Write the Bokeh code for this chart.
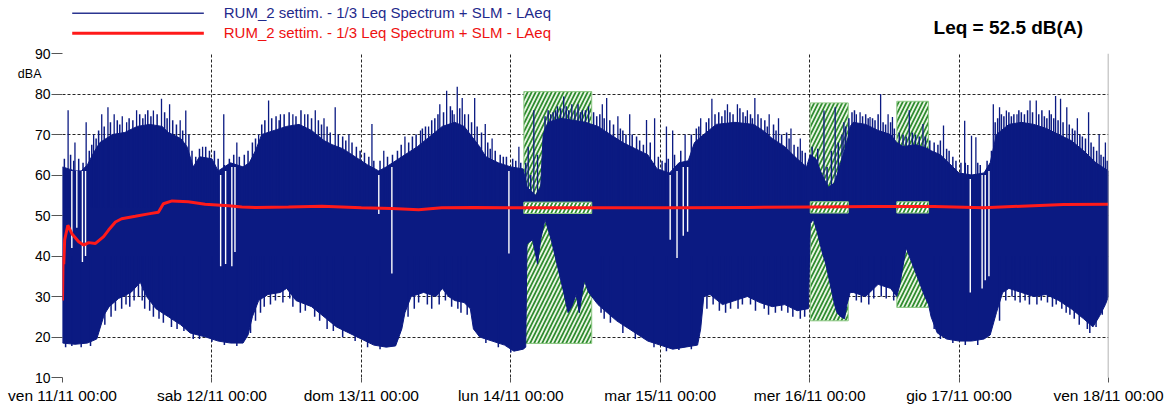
from bokeh.plotting import figure
from bokeh.models import Range1d, FixedTicker, Span, LinearAxis
from bokeh.layouts import column
from bokeh.core.properties import value
from bokeh.embed import file_html
from bokeh.resources import INLINE

# ---------------- data (hours since ven 11/11 00:00, dB(A)) ----------------
day_ticks = [0, 24, 48, 72, 96, 120, 144, 168]
day_labels = ["ven 11/11 00:00", "sab 12/11 00:00", "dom 13/11 00:00", "lun 14/11 00:00",
              "mar 15/11 00:00", "mer 16/11 00:00", "gio 17/11 00:00", "ven 18/11 00:00"]
db_ticks = [10, 20, 30, 40, 50, 60, 70, 80, 90]
unit_label = "dBA"

series_name = "RUM_2 settim. - 1/3 Leq Spectrum + SLM - LAeq"
leq_total = 52.5

# upper envelope of the LAeq short-time series
upper_t = [0, 1, 2, 3, 4, 5, 6, 7, 8, 10, 12, 14, 16, 17, 19, 20, 21, 22, 24, 25, 27, 29, 30, 31, 32, 34,
           36, 38, 40, 42, 43.3, 45, 47, 49, 50.8, 52, 53.5, 55, 57, 59, 61, 63, 64.5, 65.5, 67, 68, 70,
           72, 74, 74.6, 76, 76.8, 77.2, 78, 80, 82, 84, 86, 88, 90, 92, 94, 95.5, 97.5, 99, 100.5,
           101.5, 103, 105, 108, 111, 112.5, 114, 116, 118, 119.5, 120.1, 121, 122, 123, 124, 125,
           126, 126.5, 127, 129, 131, 133, 134, 135, 137, 139, 139.5, 141, 143, 144, 146, 148, 149,
           150, 152, 154, 156, 158, 160, 162, 164, 166, 168]
upper_db = [62, 61.5, 61, 61, 62.5, 65.5, 68, 69, 70, 70.5, 72, 72.5, 72, 70.5, 69, 67, 62, 64.5, 64, 61,
            63, 62, 63, 66, 70, 71, 72, 72.5, 71, 68.5, 67.5, 66.5, 64.5, 62.5, 61, 62, 63.5, 65, 67,
            69.5, 72, 73, 72, 70, 67, 64.5, 63, 62, 61.5, 57, 55, 57, 70, 73, 74, 73.5, 73, 72, 70, 68,
            66.5, 65, 61.5, 60.5, 63, 63.5, 68, 70, 72.5, 73, 72.5, 71, 69, 67, 64, 62, 65, 64, 60, 57,
            58, 63, 68, 72, 73, 72.5, 71, 70, 68, 67, 67.5, 66.5, 66, 65, 62, 60.5, 60, 60.5, 63, 70,
            72.5, 73, 72.5, 71.5, 70, 68.5, 66, 63, 61]

# lower envelope
lower_t = [0, 2, 4, 5.5, 6, 6.7, 7.5, 9, 11, 12.5, 13.5, 15, 17, 19, 20.5, 23, 25, 27, 29, 29.8, 30.5,
           31.5, 33, 35, 36, 37.5, 40, 42, 44, 46, 48, 50, 52, 53.5, 54.5, 55, 56, 58, 60, 61, 62, 63,
           64.5, 65.5, 66, 67, 69, 71, 72.5, 74, 74.4, 74.6, 75.5, 76.3, 76.8, 77.5, 78.5, 79.5, 80.5,
           81.2, 81.8, 82.5, 83.0, 83.8, 84.5, 86, 87.5, 89, 91, 92.5, 94, 96, 98, 100, 102, 102.5,
           103, 104, 106, 108, 110, 112, 114, 116, 118, 119.8, 120.1, 120.6, 121.2, 122, 122.6, 123.3,
           124, 124.4, 125, 125.6, 126, 126.5, 127, 129, 131, 133, 134, 134.5, 135.5, 136.5, 137.5,
           138.5, 139.1, 139.5, 140.5, 142, 144, 146, 148, 149, 150, 151, 152, 154, 156, 158, 160,
           162, 164, 165.5, 166.5, 167.5, 168]
lower_db = [18.5, 18.2, 18.5, 19.5, 22, 25.5, 27.5, 29.5, 31, 33.5, 30, 27, 25, 23, 21, 20, 19, 18.5,
            18.5, 20.5, 25, 29, 30.5, 31, 32, 29, 27.5, 25, 22.5, 21, 19.5, 18, 17.5, 17.8, 22, 26, 30,
            31, 30, 32, 30, 29, 28.5, 27, 22, 20, 19, 18, 16.5, 17, 17.5, 43, 44, 38, 44, 49, 44, 37.5,
            31, 26, 27.5, 30.5, 26, 34, 31, 28, 26, 24, 22, 20.5, 19, 18, 17, 17.5, 18, 22, 30, 30.5,
            28, 29, 30, 28.5, 27.5, 28, 26.5, 27, 48, 49, 46, 41, 38, 33, 28, 26, 25, 24.5, 28, 31, 31,
            30, 33, 32, 30, 33, 42, 38, 34, 30, 28, 25, 21, 19.5, 19, 19, 19.5, 20.5, 26, 31, 32, 31,
            30, 30.5, 29, 27, 24.5, 22.5, 25, 28, 30]

# tall isolated peaks
spike_t = [0.9, 2.0, 3.8, 5.0, 6.3, 7.3, 8.3, 9.6, 10.3, 11.9, 13.3, 14.6, 15.9, 17.2, 18.9, 19.8, 22.5,
           25.9, 28, 31.5, 33.1, 35, 37, 38.9, 40.6, 42, 43.8, 46, 49.7, 51.6, 55, 57.5, 58.8, 60.6,
           61.7, 62.9, 63.4, 64.2, 65.2, 66.2, 67.9, 69, 73.3, 74.8, 75.7, 76.3, 78.4, 79.5, 80.5,
           81.8, 83.5, 84.5, 86.7, 87.4, 89.2, 91.1, 93.8, 95.1, 97, 98, 100, 102.5, 104.3, 106.8,
           108.4, 110, 111.2, 113.5, 115, 117, 118.5, 122.3, 124.1, 125.5, 127.5, 128.1, 129.7, 131.4,
           132.6, 133.3, 136, 138.2, 141.5, 144.9, 146, 146.7, 149.5, 150.5, 151.6, 153.3, 155.4,
           156.4, 158.5, 159.5, 160.3, 161.3, 163, 164.8, 166.5, 167.5]
spike_db = [76, 68, 73, 70, 75, 76.7, 75, 74.5, 73, 76, 75, 75.9, 78.8, 77.5, 73.5, 75.9, 67, 75, 68, 70,
            78.4, 75, 75, 75, 76, 74, 76.7, 70, 72.6, 66, 69.5, 71, 72, 77.5, 80.8, 75, 81.8, 79, 75,
            79, 72.6, 69, 67, 67, 76, 65, 75, 77, 79.4, 77.5, 76, 77, 77.5, 79, 74.5, 75, 73.6, 74, 72,
            71, 70, 74, 78.8, 77.5, 77.5, 76, 79, 75, 74, 71.5, 69, 75.9, 76.7, 73, 75, 75.5, 74.3, 80,
            75, 74.3, 76, 72.6, 72.2, 73.4, 69.7, 69.3, 77.5, 76.7, 75.9, 75, 78.4, 78.4, 76, 79.5,
            78.8, 76.7, 74, 75.5, 70, 68]

# dense smaller peaks along the top edge
comb_t = [0.3, 1.3, 1.8, 2.6, 3.3, 4.3, 4.7, 5.4, 5.8, 6.7, 7.7, 8.8, 9.2, 10.7, 11.3, 12.4, 12.9, 13.7,
          14.2, 15.2, 16.4, 16.8, 17.7, 18.3, 19.3, 20.3, 20.8, 21.4, 22.0, 23.0, 23.6,
          24.4, 25.0, 26.0, 26.8, 27.5, 28.4, 29.2, 29.8, 30.5, 31.0, 32.0, 32.5, 33.6, 34.3, 34.8,
          35.6, 36.4, 37.5, 38.3, 39.4, 40.0, 41.1, 41.6, 42.5, 43.0, 44.3, 45.0, 45.5, 46.5, 47.2,
          47.8, 48.5, 49.2, 50.0,
          51.0, 52.2, 53.0, 53.8, 54.4, 55.6, 56.2, 56.8, 57.8, 58.3, 59.3, 59.8, 60.3, 61.2, 62.3,
          62.6, 63.8, 64.6, 65.7, 66.6, 67.3, 68.3, 68.7, 69.5, 70.3, 70.8, 71.3, 72.3, 72.8, 73.6,
          74.4, 75.2, 77.5, 78.0, 78.8, 79.2, 80.0, 80.9, 81.3, 82.3, 82.8, 83.2, 84.0,
          85.3, 85.8, 86.3, 87.0, 87.9, 88.5, 89.6, 90.0, 90.5, 91.5, 92.2, 92.7, 93.3, 94.4, 95.7,
          96.3, 96.8, 97.3, 98.3, 99.3, 101.0, 101.8, 102.2, 103.4, 103.8, 104.8, 105.4, 105.9,
          106.4, 107.2, 107.7, 108.8, 109.3, 109.7, 110.5, 110.8, 111.7, 112.2, 112.8, 113.2, 114.2,
          114.6, 115.5, 116.3, 116.7, 117.5, 118.1, 118.8, 119.3,
          120.4, 121.3, 122.8, 123.5, 124.6, 125.2, 125.8,
          126.3, 126.8, 127.2, 128.5, 129.0, 129.4, 130.1, 130.5, 131.0, 131.8, 132.2, 133.0, 133.6,
          134.4, 135.0, 135.5, 136.5, 137.0, 137.6, 138.6, 139.3, 140.0, 140.6, 141.0, 142.0, 142.4,
          143.0, 143.5, 144.3, 145.0, 145.4, 147.0, 147.4, 148.5, 149.2,
          149.8, 150.2, 150.8, 151.2, 152.0, 152.4, 152.8, 153.6, 154.0, 154.5, 155.0, 155.8, 156.8,
          157.3, 157.7, 158.1, 158.8, 159.2, 159.9, 160.7, 161.7, 162.2, 162.6, 163.4, 163.8, 164.3,
          165.2, 165.6, 166.1, 166.8, 167.2, 167.8]
comb_db = [64, 65, 63.5, 64, 63, 66, 67.5, 69, 71, 72, 73, 73.5, 72.5, 74, 73.5, 75, 74, 76,
           74.5, 75, 75.5, 74, 73.5, 72.5, 71, 70, 66, 64.5, 66.5, 67, 66,
           66, 64, 62.5, 64, 65, 64.5, 65, 66, 68, 69, 72.5, 73.5, 74, 74.5, 73.5,
           75, 75.5, 74.5, 76, 75, 74, 73.5, 72.5, 72, 70.5, 70, 69.5, 68.5, 68, 67,
           66, 65.5, 64.5, 63.5,
           63.5, 64.5, 65, 66, 67.5, 68, 69.5, 70, 71.5, 72, 73.5, 74, 75, 75.5, 77,
           76, 76.5, 75, 73, 72, 70.5, 68, 66.5, 66, 65, 64.5, 64.5, 64, 63.5, 63,
           63, 60, 74.5, 76, 75.5, 76, 76.5, 77, 76, 76, 77.5, 75.5, 76,
           75.5, 74.5, 75, 74, 73.5, 72.5, 71.5, 71, 70, 70, 69.5, 68.5, 67.5, 68, 64.5,
           63.5, 63, 64, 65, 66, 70, 71.5, 72, 73, 74, 75, 75.5, 74.5,
           76, 75.5, 75, 76.5, 75.5, 74.5, 75, 74, 75, 74, 73.5, 72, 72.5,
           71, 70, 70.5, 69, 67.5, 67, 66, 65.5,
           67, 66.5, 62, 66, 68, 70, 72,
           74, 75.5, 76, 74.5, 75, 74, 74, 73.5, 75, 73, 72.5, 73, 71.5,
           70.5, 70, 69.5, 70.5, 70, 69.5, 69.5, 68.5, 68, 67.5, 68.5, 66.5, 66,
           64.5, 63.5, 63, 63, 62.5, 63, 62.5, 63.5, 66,
           73, 74, 75, 74.5, 75.5, 74.5, 75, 76, 75.5, 75, 76, 75.5, 75,
           76, 74.5, 74, 75, 74, 73.5, 73, 72.5, 71.5, 71, 70, 69.5, 69,
           68, 67, 66, 65, 64.5, 63.5]

# small dips along the bottom edge
low_t = [0.5, 1.5, 3.0, 4.5, 6.8, 7.8, 8.5, 9.5, 10.2, 10.8, 11.5, 12.2, 12.8, 13.2, 14.0, 14.6, 15.5,
         16.2, 17.5, 18.4, 19.5, 21.0, 22.0, 24.0, 26.0, 28.0, 30.2, 31.0, 31.8, 32.4, 33.4, 34.2,
         35.4, 36.5, 37.0, 38.2, 39.0, 40.5, 41.3, 42.5, 43.5, 45.0, 47.0, 49.0, 51.0, 55.5, 56.5,
         57.2, 58.6, 59.3, 60.5, 61.5, 62.5, 63.5, 64.0, 65.0, 68.0, 70.0, 72.0, 86.5, 87.0, 88.0,
         90.0, 92.0, 95.0, 97.0, 99.0, 101.0, 103.5, 104.5, 105.5, 106.5, 107.3, 108.5, 109.2,
         110.5, 111.3, 112.7, 113.4, 114.5, 115.5, 116.5, 117.3, 118.5, 119.2, 127.5, 128.3, 129.5,
         130.3, 131.5, 132.3, 133.5, 140.0, 141.0, 143.0, 145.0, 147.0, 150.5, 151.5, 152.5, 153.0,
         153.8, 154.6, 155.3, 156.5, 157.2, 158.2, 159.0, 159.6, 160.5, 161.2, 161.8, 162.5, 163.3,
         164.6, 165.0, 166.0, 167.0]
low_db = [17.5, 17.8, 17.5, 17.8, 23, 25, 26.5, 27, 28, 27.5, 29, 30, 29, 27, 26.5, 25, 24.5,
          23.5, 22.5, 22, 21.5, 19.5, 19.5, 18.8, 18, 17.8, 21, 24, 26, 27.5, 28, 29,
          28.5, 29.5, 27.5, 26, 26.5, 25, 24, 22, 21.5, 20, 19, 17.5, 17, 25, 27,
          28.5, 28, 27, 28, 29, 27.5, 27, 26, 25.5, 18.5, 17.5, 16.2, 26, 24.5, 23.5,
          21, 19.5, 17.5, 16.5, 16.8, 17, 27, 28, 26.5, 26, 27, 27, 28,
          28, 26.5, 27, 25.5, 26, 26.5, 26, 25, 24.5, 25, 29, 28.5, 28,
          29.5, 30, 29.5, 29, 22, 19.5, 18.5, 18, 18, 24, 29, 30, 29,
          28.5, 29, 28, 28, 29, 28.5, 27.5, 28, 27, 26, 25.5, 24.5, 23,
          22, 21, 22.5, 25.5]

# short drop-outs (white gaps through the band)
dip_t = [1.5, 2.3, 3.2, 3.7, 25.4, 26.2, 27.2, 27.7, 50.8, 52.9, 71.7, 97.6, 98.7, 99.7, 100.4,
         145.8, 147.7, 148.2, 148.8]
dip_top = [61, 61, 61, 61, 60, 61, 62, 62, 60, 62, 61, 60, 61, 62, 62, 59, 60, 60, 61]
dip_bot = [42, 47, 38.5, 40, 37.5, 38, 37.5, 41, 50.4, 35.7, 40.6, 44, 39.5, 45, 46, 31, 32, 34, 35]

# running (cumulative) Leq
leq_t = [0, 0.1, 0.2, 0.35, 0.86, 1.5, 2.6, 3.4, 4.2, 5.3, 6.6, 7.4, 8.5, 9.5, 11.7, 13.8, 15.4, 16.2,
         17.6, 20.2, 22.9, 26.7, 28.8, 31, 36.3, 41.7, 48, 52.9, 57.2, 60.9, 66, 72, 80, 90, 100, 110,
         120, 130, 140, 148, 154, 160.8, 168]
leq_db = [29, 40, 38, 44, 47.6, 45.5, 43.5, 42.7, 43.3, 43.1, 44.8, 46.4, 48.4, 49.2, 49.8, 50.4, 50.8,
          52.9, 53.6, 53.4, 52.8, 52.4, 52.1, 52, 52.1, 52.3, 51.9, 51.7, 51.4, 51.9, 52, 51.9, 51.9,
          51.9, 51.9, 52, 52.1, 52.2, 52.2, 51.9, 52.3, 52.7, 52.8]

# masked (excluded) intervals
mask_start = [74.1, 120.1, 134.0]
mask_end = [85.0, 126.2, 139.1]
mask_top = [80.6, 77.8, 78.2]
mask_bottom = [18.4, 24.0, 27.3]
band_top = [53.3, 53.4, 53.4]
band_bottom = [50.5, 50.6, 50.6]

# ---------------- styling ----------------
FONT = "Liberation Sans"
NAVY = "#0b1a82"
RED = "#ff1a1a"
GREEN = "#2e8b2e"
FRAME_W = 1046

# ---- main chart ----
p = figure(frame_width=FRAME_W, frame_height=324, min_border_left=62, min_border_right=60,
           min_border_top=8, min_border_bottom=29, output_backend="svg", toolbar_location=None,
           x_range=Range1d(0, 168), y_range=Range1d(10, 90), background_fill_color="white",
           border_fill_color="white")
p.outline_line_color = None

for ax in (p.xaxis[0], p.yaxis[0]):
    ax.axis_line_color = None
    ax.major_tick_line_color = "#555555"
    ax.major_tick_in = 0
    ax.minor_tick_line_color = None
    ax.major_label_text_font = FONT
    ax.major_label_text_color = "black"

p.xaxis.ticker = FixedTicker(ticks=day_ticks)
p.xaxis.major_label_overrides = {t: l for t, l in zip(day_ticks, day_labels)}
p.xaxis.major_label_text_font_size = "15.5px"
p.xaxis.major_tick_out = 5
p.xaxis.major_label_standoff = 4

p.yaxis.ticker = FixedTicker(ticks=db_ticks)
p.yaxis.major_label_text_font_size = "14px"
p.yaxis.major_tick_out = 11
p.yaxis.major_label_standoff = 1

# unit caption as a one-tick axis next to the value axis
unit_axis = LinearAxis(ticker=FixedTicker(ticks=[85]), major_label_overrides={85: unit_label},
                       axis_line_color=None, major_tick_line_color=None,
                       minor_tick_line_color=None, major_tick_out=0, major_tick_in=0,
                       major_label_standoff=-10, major_label_text_font=FONT,
                       major_label_text_font_size="12.5px", major_label_text_color="black")
p.add_layout(unit_axis, "left")

for g in (p.xgrid[0], p.ygrid[0]):
    g.grid_line_color = "black"
    g.grid_line_dash = "3 2"
    g.grid_line_width = 1
    g.grid_line_alpha = 0.85
p.xgrid.ticker = FixedTicker(ticks=day_ticks)
p.ygrid.ticker = FixedTicker(ticks=db_ticks)

# masked regions (behind the data)
p.quad(left=mask_start, right=mask_end, top=mask_top, bottom=mask_bottom,
       fill_color="#eaf6e4", line_color="#8cc883", line_width=1,
       hatch_pattern="/", hatch_color=GREEN, hatch_scale=8, hatch_weight=1.7)

# dense LAeq short series drawn as its envelope plus peaks
xs = upper_t + lower_t[::-1]
ys = upper_db + lower_db[::-1]
p.patch(xs, ys, fill_color=NAVY, line_color=NAVY, line_width=1)
top_base = 52
low_base = 40
p.segment(x0=comb_t, y0=[top_base] * len(comb_t), x1=comb_t, y1=comb_db,
          line_color=NAVY, line_width=1.5)
p.segment(x0=spike_t, y0=[top_base] * len(spike_t), x1=spike_t, y1=spike_db,
          line_color=NAVY, line_width=1.3)
p.segment(x0=low_t, y0=[low_base] * len(low_t), x1=low_t, y1=low_db,
          line_color=NAVY, line_width=1.5)
p.segment(x0=dip_t, y0=dip_top, x1=dip_t, y1=dip_bot, line_color="white", line_width=1.4)

# masked bands over the running Leq
p.quad(left=mask_start, right=mask_end, top=band_top, bottom=band_bottom,
       fill_color="white", line_color="#8cc883", line_width=1,
       hatch_pattern="/", hatch_color=GREEN, hatch_scale=8, hatch_weight=1.7)

p.line(leq_t, leq_db, line_color=RED, line_width=3)

p.add_layout(Span(location=168, dimension="height", line_color="#9a9a9a", line_width=1.5))

# ---- header strip: legend + total Leq (y in pixels from the top) ----
h = figure(frame_width=FRAME_W, frame_height=45, min_border_left=62, min_border_right=60,
           min_border_top=0, min_border_bottom=0, output_backend="svg", toolbar_location=None,
           x_range=p.x_range, y_range=Range1d(45, 0), x_axis_location=None, y_axis_location=None,
           border_fill_color="white", background_fill_color="white")
h.outline_line_color = None
h.xgrid.visible = False
h.ygrid.visible = False

h.line([1.56, 22.7], [12.7, 12.7], line_color="#2b3590", line_width=1.5)
h.line([1.56, 22.7], [32.7, 32.7], line_color=RED, line_width=3)
h.text(x=[25.9], y=[12.3], text=[series_name], text_font=value(FONT), text_font_size="15px",
       text_color="#1f2a8c", text_baseline="middle", text_align="left")
h.text(x=[25.9], y=[32.0], text=[series_name], text_font=value(FONT), text_font_size="15px",
       text_color="#ee1111", text_baseline="middle", text_align="left")
h.text(x=[151.9], y=[26.7], text=["Leq = %.1f dB(A)" % leq_total], text_font=value(FONT),
       text_font_size="19px", text_font_style="bold", text_color="black",
       text_baseline="middle", text_align="center")

layout = column(h, p)
open("out.html", "w").write(file_html(layout, INLINE))
